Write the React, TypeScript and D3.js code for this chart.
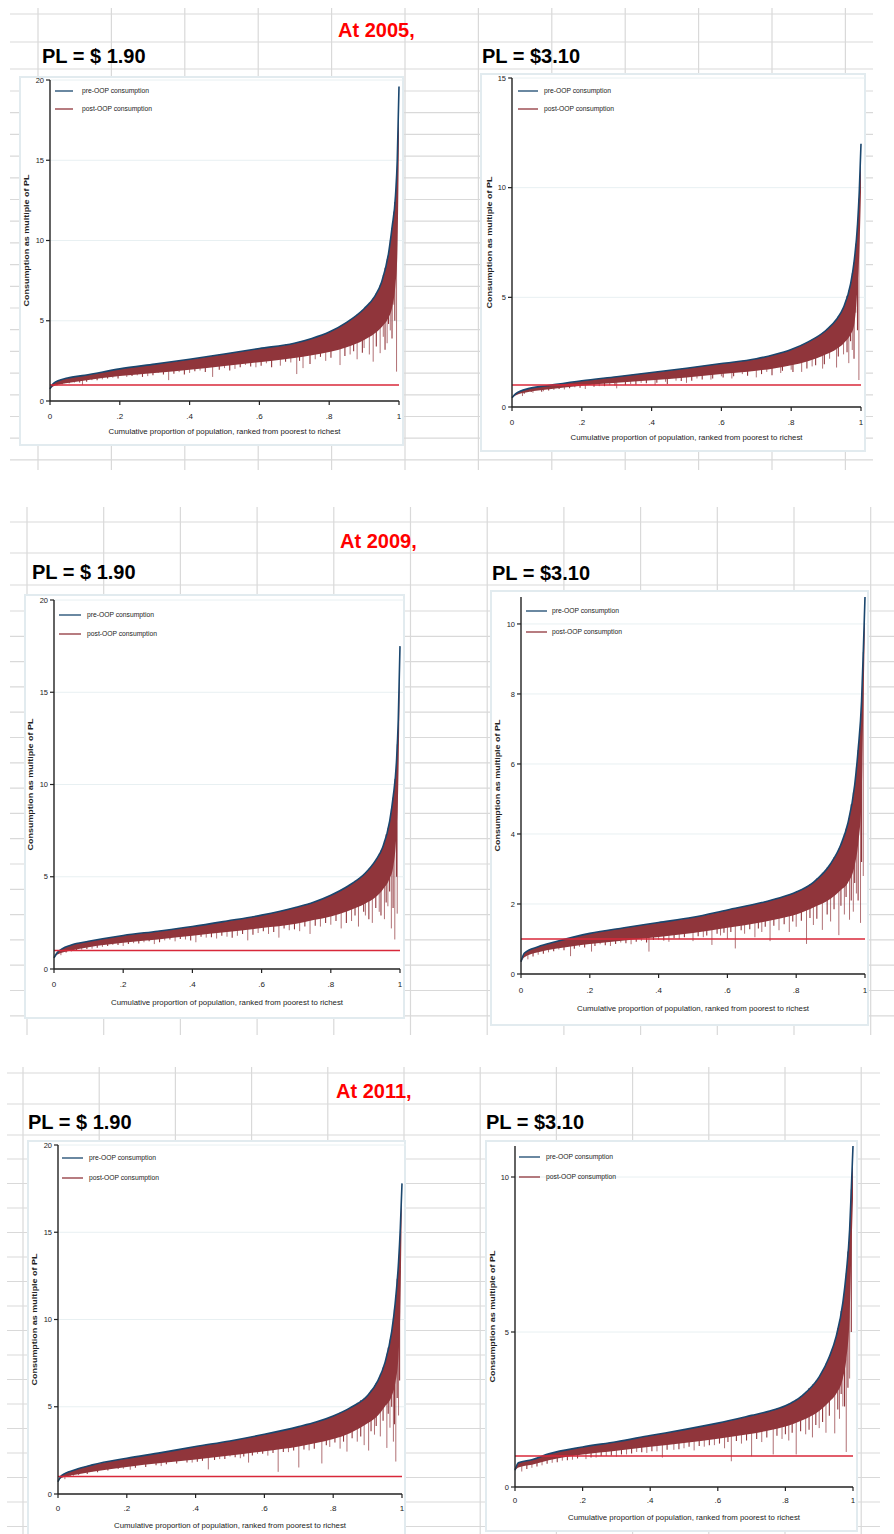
import * as d3 from "d3";

// cumulative proportion of population at which the curves were read
const xGrid = [0, 0.01, 0.05, 0.1, 0.2, 0.3, 0.4, 0.5, 0.6, 0.7, 0.75, 0.8, 0.85, 0.9, 0.93, 0.95, 0.97, 0.98, 0.99, 0.995, 1];

// 2005, PL = $1.90
const pre2005a = [0.75, 1.1, 1.43, 1.6, 2.0, 2.3, 2.6, 2.93, 3.27, 3.6, 3.9, 4.3, 4.9, 5.75, 6.5, 7.4, 9.2, 10.8, 12.8, 15.0, 19.6];
const post2005a = [0.75, 0.92, 1.12, 1.28, 1.55, 1.75, 1.95, 2.18, 2.42, 2.68, 2.85, 3.05, 3.35, 3.8, 4.2, 4.6, 5.2, 5.8, 7.3, 9.0, 16.5];
const dips2005a = [[0.02, 0.95], [0.04, 1.1], [0.07, 1.15], [0.093, 1.0], [0.12, 1.3], [0.15, 1.35], [0.18, 1.45], [0.22, 1.5], [0.25, 1.6], [0.28, 1.55], [0.31, 1.75], [0.34, 1.3], [0.37, 1.8], [0.4, 1.75], [0.43, 1.9], [0.466, 1.5], [0.5, 2.05], [0.53, 2.0], [0.56, 2.25], [0.59, 2.1], [0.62, 2.35], [0.66, 2.2], [0.69, 2.4], [0.707, 1.68], [0.725, 2.05], [0.76, 2.6], [0.79, 2.5], [0.831, 2.24], [0.86, 2.9], [0.88, 2.6], [0.9, 3.3], [0.915, 2.9], [0.926, 2.45], [0.946, 2.98], [0.955, 4.0], [0.966, 3.6], [0.975, 4.4], [0.985, 6.0], [0.993, 1.83]];
const nicks2005a = [[0.035, 1.05], [0.055, 1.1], [0.085, 1.15], [0.105, 1.2], [0.135, 1.3], [0.165, 1.4], [0.195, 1.4], [0.235, 1.55], [0.265, 1.5], [0.295, 1.6], [0.325, 1.65], [0.355, 1.7], [0.385, 1.65], [0.415, 1.85], [0.445, 1.8], [0.485, 1.95], [0.515, 1.9], [0.545, 2.1], [0.575, 2.15], [0.605, 2.2], [0.635, 2.1], [0.675, 2.45], [0.715, 2.5], [0.745, 2.3], [0.775, 2.75], [0.805, 2.7], [0.845, 2.8], [0.87, 3.1], [0.895, 3.0], [0.935, 3.4], [0.96, 3.2], [0.97, 4.8], [0.98, 3.9], [0.988, 5.0]];

// 2005, PL = $3.10
const pre2005b = [0.42, 0.6, 0.85, 0.97, 1.2, 1.38, 1.57, 1.77, 1.98, 2.2, 2.38, 2.62, 2.98, 3.5, 4.0, 4.55, 5.6, 6.6, 8.3, 9.8, 12.0];
const post2005b = [0.42, 0.52, 0.7, 0.8, 0.97, 1.1, 1.22, 1.35, 1.5, 1.65, 1.76, 1.9, 2.1, 2.4, 2.65, 2.9, 3.3, 3.7, 5.5, 7.0, 9.8];
const dips2005b = [[0.03, 0.5], [0.06, 0.65], [0.09, 0.72], [0.12, 0.78], [0.15, 0.8], [0.18, 0.9], [0.21, 0.82], [0.25, 0.95], [0.28, 1.0], [0.3, 0.85], [0.34, 1.05], [0.37, 1.1], [0.41, 1.0], [0.44, 1.15], [0.47, 1.2], [0.5, 1.1], [0.53, 1.3], [0.57, 1.25], [0.6, 1.4], [0.63, 1.3], [0.66, 1.5], [0.7, 1.35], [0.73, 1.6], [0.77, 1.55], [0.8, 1.7], [0.83, 1.6], [0.86, 1.85], [0.89, 1.75], [0.91, 2.2], [0.93, 1.8], [0.95, 2.4], [0.965, 2.0], [0.975, 2.6], [0.985, 4.3], [0.994, 1.23]];
const nicks2005b = [[0.035, 0.6], [0.055, 0.68], [0.085, 0.7], [0.105, 0.75], [0.135, 0.82], [0.165, 0.85], [0.195, 0.88], [0.235, 0.92], [0.265, 0.95], [0.295, 0.98], [0.325, 1.0], [0.355, 1.02], [0.385, 1.08], [0.415, 1.1], [0.445, 1.05], [0.485, 1.18], [0.515, 1.2], [0.545, 1.25], [0.575, 1.3], [0.605, 1.35], [0.635, 1.4], [0.675, 1.42], [0.715, 1.5], [0.745, 1.45], [0.775, 1.65], [0.805, 1.6], [0.845, 1.75], [0.87, 1.9], [0.895, 1.95], [0.935, 2.3], [0.96, 2.5], [0.97, 3.0], [0.98, 2.2], [0.99, 3.5]];

// 2009, PL = $1.90
const pre2009a = [0.6, 0.9, 1.3, 1.5, 1.82, 2.05, 2.3, 2.6, 2.92, 3.35, 3.62, 4.0, 4.5, 5.2, 5.9, 6.6, 8.0, 9.3, 11.3, 13.5, 17.5];
const post2009a = [0.6, 0.78, 1.0, 1.18, 1.42, 1.6, 1.8, 2.0, 2.22, 2.45, 2.65, 2.85, 3.15, 3.55, 3.9, 4.3, 4.9, 5.5, 7.5, 10.0, 16.5];
const dips2009a = [[0.02, 0.75], [0.05, 0.95], [0.08, 1.05], [0.11, 1.1], [0.14, 1.2], [0.17, 1.3], [0.2, 1.25], [0.23, 1.4], [0.26, 1.45], [0.29, 1.35], [0.32, 1.55], [0.35, 1.5], [0.38, 1.6], [0.41, 1.45], [0.44, 1.7], [0.47, 1.65], [0.5, 1.75], [0.53, 1.8], [0.56, 1.55], [0.59, 1.95], [0.62, 1.9], [0.65, 1.7], [0.68, 2.1], [0.71, 2.05], [0.74, 1.9], [0.77, 2.3], [0.8, 2.4], [0.83, 2.2], [0.86, 2.6], [0.88, 2.3], [0.9, 2.9], [0.92, 2.5], [0.94, 3.1], [0.955, 2.7], [0.965, 3.4], [0.975, 2.2], [0.985, 1.6], [0.992, 3.0]];
const nicks2009a = [[0.035, 0.9], [0.065, 1.0], [0.095, 1.08], [0.125, 1.15], [0.155, 1.25], [0.185, 1.3], [0.215, 1.35], [0.245, 1.38], [0.275, 1.5], [0.305, 1.45], [0.335, 1.6], [0.365, 1.62], [0.395, 1.55], [0.425, 1.75], [0.455, 1.72], [0.485, 1.8], [0.515, 1.7], [0.545, 1.9], [0.575, 1.85], [0.605, 2.05], [0.635, 2.0], [0.665, 2.2], [0.695, 2.15], [0.725, 2.3], [0.755, 2.35], [0.785, 2.5], [0.815, 2.6], [0.845, 2.5], [0.87, 2.9], [0.895, 3.1], [0.91, 2.7], [0.93, 3.3], [0.945, 2.9], [0.96, 3.6], [0.97, 4.2], [0.98, 3.3], [0.99, 5.0]];

// 2009, PL = $3.10
const pre2009b = [0.35, 0.6, 0.78, 0.92, 1.16, 1.32, 1.47, 1.62, 1.83, 2.04, 2.17, 2.34, 2.62, 3.15, 3.7, 4.3, 5.4, 6.4, 7.8, 9.2, 10.77];
const post2009b = [0.35, 0.48, 0.62, 0.72, 0.86, 0.96, 1.06, 1.17, 1.32, 1.48, 1.58, 1.7, 1.9, 2.15, 2.4, 2.6, 3.1, 3.7, 5.0, 7.5, 10.0];
const dips2009b = [[0.02, 0.42], [0.05, 0.55], [0.08, 0.62], [0.11, 0.7], [0.144, 0.51], [0.17, 0.78], [0.205, 0.64], [0.23, 0.85], [0.26, 0.8], [0.29, 0.9], [0.32, 0.85], [0.35, 0.95], [0.372, 0.64], [0.4, 0.98], [0.43, 0.92], [0.46, 1.0], [0.5, 0.94], [0.53, 1.05], [0.555, 0.83], [0.58, 1.1], [0.6, 1.0], [0.623, 0.73], [0.65, 1.15], [0.68, 1.05], [0.7, 1.2], [0.724, 0.94], [0.75, 1.25], [0.78, 1.2], [0.8, 1.35], [0.83, 0.86], [0.85, 1.4], [0.876, 1.26], [0.9, 1.5], [0.924, 1.11], [0.94, 1.7], [0.955, 1.55], [0.966, 1.78], [0.975, 2.3], [0.987, 1.46], [0.995, 2.8]];
const nicks2009b = [[0.035, 0.5], [0.065, 0.58], [0.095, 0.65], [0.125, 0.68], [0.155, 0.72], [0.185, 0.76], [0.215, 0.8], [0.245, 0.82], [0.275, 0.86], [0.305, 0.88], [0.335, 0.92], [0.365, 0.9], [0.385, 0.97], [0.415, 0.96], [0.445, 1.02], [0.475, 1.05], [0.515, 1.08], [0.54, 1.1], [0.57, 1.15], [0.59, 1.18], [0.61, 1.2], [0.64, 1.25], [0.665, 1.28], [0.69, 1.3], [0.71, 1.35], [0.735, 1.38], [0.765, 1.42], [0.79, 1.5], [0.815, 1.52], [0.84, 1.6], [0.86, 1.58], [0.89, 1.7], [0.91, 1.85], [0.93, 1.95], [0.945, 2.2], [0.96, 2.1], [0.97, 2.6], [0.98, 2.1], [0.99, 3.2]];

// 2011, PL = $1.90
const pre2011a = [0.7, 1.05, 1.39, 1.67, 2.05, 2.37, 2.72, 3.04, 3.42, 3.86, 4.12, 4.47, 4.95, 5.65, 6.5, 7.5, 9.3, 10.9, 13.3, 15.2, 17.8];
const post2011a = [0.7, 0.92, 1.1, 1.28, 1.55, 1.77, 1.98, 2.2, 2.45, 2.72, 2.92, 3.15, 3.5, 4.05, 4.5, 5.0, 5.6, 6.3, 8.0, 10.5, 17.2];
const dips2011a = [[0.02, 0.85], [0.045, 1.05], [0.07, 1.2], [0.1, 1.3], [0.13, 1.4], [0.16, 1.5], [0.19, 1.45], [0.21, 1.39], [0.24, 1.7], [0.27, 1.75], [0.3, 1.6], [0.33, 1.85], [0.36, 1.95], [0.39, 1.8], [0.437, 1.41], [0.47, 2.0], [0.5, 2.15], [0.53, 2.05], [0.554, 1.8], [0.58, 2.3], [0.61, 2.2], [0.64, 1.27], [0.67, 2.4], [0.7, 1.52], [0.73, 2.5], [0.767, 1.75], [0.79, 2.7], [0.82, 2.6], [0.84, 2.43], [0.87, 3.0], [0.89, 2.8], [0.903, 2.49], [0.92, 3.4], [0.937, 3.3], [0.956, 2.64], [0.965, 3.8], [0.975, 3.0], [0.982, 1.86], [0.99, 4.5]];
const nicks2011a = [[0.035, 1.0], [0.06, 1.1], [0.085, 1.15], [0.115, 1.25], [0.145, 1.35], [0.175, 1.45], [0.225, 1.5], [0.255, 1.55], [0.285, 1.65], [0.315, 1.7], [0.345, 1.75], [0.375, 1.8], [0.405, 1.85], [0.42, 1.9], [0.455, 1.95], [0.485, 2.0], [0.515, 2.1], [0.54, 2.15], [0.565, 2.2], [0.595, 2.3], [0.625, 2.35], [0.655, 2.4], [0.685, 2.5], [0.715, 2.55], [0.745, 2.6], [0.78, 2.8], [0.805, 2.95], [0.83, 3.0], [0.855, 3.2], [0.88, 3.3], [0.91, 3.6], [0.925, 3.9], [0.945, 4.2], [0.96, 4.6], [0.97, 5.0], [0.978, 4.0], [0.986, 5.5], [0.993, 6.5]];

// 2011, PL = $3.10
const pre2011b = [0.54, 0.78, 0.88, 1.07, 1.29, 1.46, 1.66, 1.85, 2.06, 2.31, 2.44, 2.62, 2.95, 3.55, 4.2, 4.85, 5.95, 6.9, 8.3, 9.6, 11.0];
const post2011b = [0.54, 0.63, 0.72, 0.86, 1.05, 1.17, 1.3, 1.42, 1.56, 1.72, 1.82, 1.95, 2.15, 2.45, 2.75, 3.0, 3.5, 4.1, 5.5, 7.5, 9.3];
const dips2011b = [[0.02, 0.5], [0.05, 0.62], [0.08, 0.7], [0.11, 0.78], [0.14, 0.85], [0.17, 0.88], [0.21, 0.9], [0.24, 0.95], [0.27, 1.0], [0.3, 0.98], [0.33, 1.05], [0.36, 1.13], [0.39, 1.1], [0.42, 1.15], [0.436, 0.95], [0.47, 1.2], [0.5, 1.25], [0.53, 1.18], [0.56, 1.3], [0.59, 1.35], [0.62, 1.25], [0.64, 0.83], [0.67, 1.4], [0.7, 0.99], [0.73, 1.45], [0.764, 1.05], [0.79, 1.55], [0.81, 1.5], [0.832, 1.05], [0.86, 1.7], [0.88, 1.6], [0.9, 1.9], [0.92, 1.75], [0.946, 1.73], [0.96, 2.2], [0.97, 2.6], [0.98, 1.13], [0.99, 3.5]];
const nicks2011b = [[0.035, 0.58], [0.065, 0.66], [0.095, 0.75], [0.125, 0.8], [0.155, 0.86], [0.185, 0.92], [0.225, 0.95], [0.255, 1.0], [0.285, 1.02], [0.315, 1.05], [0.345, 1.08], [0.375, 1.12], [0.405, 1.15], [0.45, 1.2], [0.485, 1.22], [0.515, 1.3], [0.545, 1.32], [0.575, 1.35], [0.605, 1.4], [0.63, 1.45], [0.655, 1.48], [0.685, 1.5], [0.715, 1.55], [0.745, 1.6], [0.775, 1.65], [0.8, 1.7], [0.82, 1.75], [0.845, 1.8], [0.87, 1.85], [0.89, 2.0], [0.91, 2.1], [0.93, 2.3], [0.955, 2.5], [0.965, 3.0], [0.975, 2.6], [0.985, 3.2], [0.995, 5.0]];

const yearTitles = ["At 2005,", "At 2009,", "At 2011,"];
const plTitles = ["PL = $ 1.90", "PL = $3.10"];
const legendLabels = ["pre-OOP consumption", "post-OOP consumption"];
const xTicks = [0, 0.2, 0.4, 0.6, 0.8, 1];
const povertyLine = 1;

const NAVY = "#1a476f";
const MAROON = "#90353b";
const PLRED = "#d8283a";
const FONT = "'Liberation Sans', Arial, sans-serif";

const charts = [
  { pre: pre2005a, post: post2005a, dips: dips2005a, nicks: nicks2005a, box: [20, 77, 403, 445], l: 50, r: 399, t: 80, b: 401, yMax: 20, yTicks: [0, 5, 10, 15, 20], leg: [55, 73, 82, 91, 109], ytX: 26, xlY: 416, xtY: 431 },
  { pre: pre2005b, post: post2005b, dips: dips2005b, nicks: nicks2005b, box: [481, 74, 865, 451], l: 512, r: 861, t: 78, b: 407, yMax: 15, yTicks: [0, 5, 10, 15], leg: [518, 538, 544, 91, 109], ytX: 489, xlY: 422, xtY: 437 },
  { pre: pre2009a, post: post2009a, dips: dips2009a, nicks: nicks2009a, box: [25, 595, 404, 1018], l: 54, r: 400, t: 600, b: 969, yMax: 20, yTicks: [0, 5, 10, 15, 20], leg: [59, 81, 87, 615, 634], ytX: 30, xlY: 984, xtY: 1002 },
  { pre: pre2009b, post: post2009b, dips: dips2009b, nicks: nicks2009b, box: [491, 591, 868, 1025], l: 521, r: 865, t: 597, b: 974, yMax: 10.77, yTicks: [0, 2, 4, 6, 8, 10], leg: [526, 547, 552, 611, 632], ytX: 497, xlY: 990, xtY: 1008 },
  { pre: pre2011a, post: post2011a, dips: dips2011a, nicks: nicks2011a, box: [28, 1141, 405, 1545], l: 58, r: 402, t: 1145, b: 1494, yMax: 20, yTicks: [0, 5, 10, 15, 20], leg: [62, 83, 89, 1158, 1178], ytX: 34, xlY: 1508, xtY: 1525 },
  { pre: pre2011b, post: post2011b, dips: dips2011b, nicks: nicks2011b, box: [486, 1141, 857, 1531], l: 515, r: 853, t: 1146, b: 1487, yMax: 11, yTicks: [0, 5, 10], leg: [519, 540, 546, 1157, 1177], ytX: 492, xlY: 1500, xtY: 1517 },
];

const sections = [
  { y0: 8, y1: 470, colStart: 38, colStep: 73.4, rows: [14, 42, 69], rowStart: 91, rowStep: 21.7, rowEnd: 460, xL: 10, xR: 873, yearX: 338, yearY: 37, pl: [[42, 63], [482, 63]] },
  { y0: 507, y1: 1035, colStart: 27, colStep: 76.7, rows: [522, 553, 585], rowStart: 611, rowStep: 25.3, rowEnd: 1030, xL: 10, xR: 894, yearX: 340, yearY: 548, pl: [[32, 579], [492, 580]] },
  { y0: 1067, y1: 1534, colStart: 23, colStep: 76.2, rows: [1073, 1104, 1135], rowStart: 1159, rowStep: 24.5, rowEnd: 1534, xL: 7, xR: 880, yearX: 336, yearY: 1098, pl: [[28, 1129], [486, 1129]] },
];

function SheetGrid({ s }: any) {
  const cols = d3.range(12).map((k) => s.colStart + k * s.colStep);
  const rows = [...s.rows, ...d3.range(s.rowStart, s.rowEnd, s.rowStep)];
  return (
    <g stroke="#d9d9d9" strokeWidth={1.2}>
      {cols.map((cx, i) => (
        <line key={"c" + i} x1={cx} x2={cx} y1={s.y0} y2={s.y1} />
      ))}
      {rows.map((ry, i) => (
        <line key={"r" + i} x1={s.xL} x2={s.xR} y1={ry} y2={ry} />
      ))}
    </g>
  );
}

function PenParade({ c }: any) {
  const x = d3.scaleLinear().domain([0, 1]).range([c.l, c.r]);
  const y = d3.scaleLinear().domain([0, c.yMax]).range([c.b, c.t]);
  const preAt = d3.scaleLinear().domain(xGrid).range(c.pre);
  const pts = xGrid.map((v, i) => ({ x: v, pre: c.pre[i], post: c.post[i] }));
  const area = d3
    .area<any>()
    .x((d) => x(d.x))
    .y0((d) => y(d.post))
    .y1((d) => y(d.pre))
    .curve(d3.curveMonotoneX);
  const line = d3
    .line<any>()
    .x((d) => x(d.x))
    .y((d) => y(d.pre))
    .curve(d3.curveMonotoneX);
  const [bx0, by0, bx1, by1] = c.box;
  const midY = (c.t + c.b) / 2;
  const tickLabel = (v: number) => String(v).replace(/^0\./, ".");

  return (
    <g fontFamily={FONT}>
      <rect x={bx0} y={by0} width={bx1 - bx0} height={by1 - by0} fill="#fff" stroke="#e2ebef" strokeWidth={2} />
      {/* horizontal grid */}
      {c.yTicks
        .filter((v: number) => v > 0)
        .map((v: number) => (
          <line key={"g" + v} x1={c.l} x2={c.r + 4} y1={y(v)} y2={y(v)} stroke="#e8f0f2" strokeWidth={1} />
        ))}
      {/* post-OOP spikes below the dense band */}
      {c.dips.map((d: number[], i: number) => (
        <line key={"d" + i} x1={x(d[0])} x2={x(d[0])} y1={y(d[1])} y2={y(preAt(d[0]))} stroke={MAROON} strokeWidth={1} opacity={0.7} />
      ))}
      {c.nicks.map((d: number[], i: number) => (
        <line key={"n" + i} x1={x(d[0])} x2={x(d[0])} y1={y(d[1])} y2={y(preAt(d[0]))} stroke={MAROON} strokeWidth={1.1} />
      ))}
      <path d={area(pts) ?? ""} fill={MAROON} />
      <path d={line(pts) ?? ""} fill="none" stroke={NAVY} strokeWidth={1.6} />
      {/* poverty line */}
      <line x1={x(0)} x2={x(1)} y1={y(povertyLine)} y2={y(povertyLine)} stroke={PLRED} strokeWidth={1.4} />
      {/* y axis */}
      <line x1={c.l} x2={c.l} y1={c.b} y2={c.t} stroke="#222" strokeWidth={1.4} />
      {c.yTicks.map((v: number) => (
        <g key={"y" + v}>
          <line x1={c.l - 4} x2={c.l} y1={y(v)} y2={y(v)} stroke="#222" strokeWidth={1.2} />
          <text x={c.l - 6} y={y(v)} dy="0.35em" fontSize={7.5} textAnchor="end" fill="#222">
            {v}
          </text>
        </g>
      ))}
      {/* x axis */}
      <line x1={c.l} x2={c.r} y1={c.b} y2={c.b} stroke="#222" strokeWidth={1.4} />
      {xTicks.map((v) => (
        <g key={"x" + v}>
          <line x1={x(v)} x2={x(v)} y1={c.b} y2={c.b + 4} stroke="#222" strokeWidth={1.2} />
          <text x={x(v)} y={c.xlY} dy="0.35em" fontSize={8} textAnchor="middle" fill="#222">
            {tickLabel(v)}
          </text>
        </g>
      ))}
      <text x={(c.l + c.r) / 2} y={c.xtY} dy="0.35em" fontSize={8} textAnchor="middle" fill="#222" textLength={232} lengthAdjust="spacingAndGlyphs">
        Cumulative proportion of population, ranked from poorest to richest
      </text>
      <text
        transform={`translate(${c.ytX},${midY}) rotate(-90)`}
        dy="0.35em"
        fontSize={7.5}
        fontWeight="bold"
        textAnchor="middle"
        fill="#222"
        textLength={132}
        lengthAdjust="spacingAndGlyphs"
      >
        Consumption as multiple of PL
      </text>
      {/* legend */}
      {legendLabels.map((lab, i) => (
        <g key={lab}>
          <line x1={c.leg[0]} x2={c.leg[1]} y1={c.leg[3 + i]} y2={c.leg[3 + i]} stroke={i === 0 ? NAVY : MAROON} strokeWidth={1.3} />
          <text x={c.leg[2]} y={c.leg[3 + i]} dy="0.35em" fontSize={7} fill="#222" textLength={i === 0 ? 67 : 70} lengthAdjust="spacingAndGlyphs">
            {lab}
          </text>
        </g>
      ))}
    </g>
  );
}

export default function App() {
  return (
    <svg width={894} height={1534} style={{ position: "absolute", left: 0, top: 0, background: "#fff" }}>
      {sections.map((s, i) => (
        <g key={"s" + i}>
          <SheetGrid s={s} />
          <text x={s.yearX} y={s.yearY} fontFamily={FONT} fontWeight="bold" fontSize={20} fill="#ff0000">
            {yearTitles[i]}
          </text>
          {s.pl.map((p, j) => (
            <text key={j} x={p[0]} y={p[1]} fontFamily={FONT} fontWeight="bold" fontSize={20} fill="#000">
              {plTitles[j]}
            </text>
          ))}
        </g>
      ))}
      {charts.map((c, i) => (
        <PenParade key={i} c={c} />
      ))}
    </svg>
  );
}
